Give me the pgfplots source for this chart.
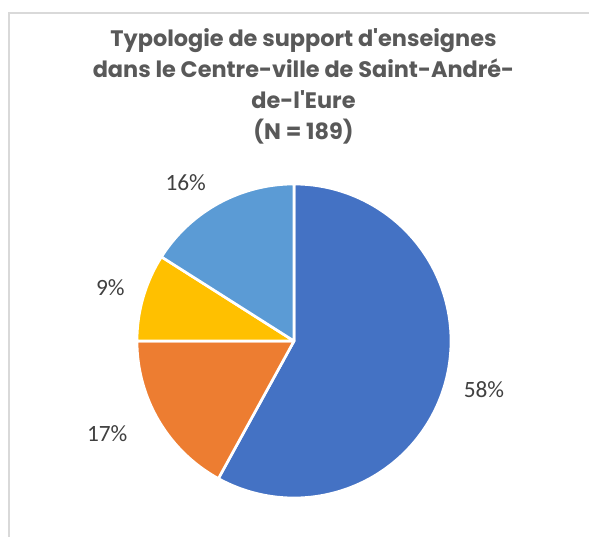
\documentclass[border=0pt]{standalone}
\usepackage{pgfplots}
\usepackage{pgfplotstable}
\pgfplotsset{compat=1.18}
\usepackage{fontspec}
\newfontfamily\titlefont{Poppins}
\newfontfamily\labelfont{Carlito}
\definecolor{c1}{HTML}{4472C4}
\definecolor{c2}{HTML}{ED7D31}
\definecolor{c3}{HTML}{FFC000}
\definecolor{c4}{HTML}{5B9BD5}
\definecolor{titlegray}{HTML}{595959}
\definecolor{labgray}{HTML}{404040}
\definecolor{framegray}{HTML}{D9D9D9}
\pgfplotstableread{
value color
58 c1
17 c2
9 c3
16 c4
}\pietable
\begin{document}
\begin{tikzpicture}[x=0.75pt,y=0.75pt]
\useasboundingbox (0,0) rectangle (589,536);
\draw[framegray, line width=1pt] (9,-5) -- (9,523) -- (600,523);
\begin{scope}[titlegray]
\node[anchor=base, inner sep=0] at (303.5,489) {\titlefont\bfseries\fontsize{16.8pt}{18pt}\selectfont Typologie de support d'enseignes};
\node[anchor=base, inner sep=0] at (303.5,458) {\titlefont\bfseries\fontsize{16.8pt}{18pt}\selectfont dans le Centre-ville de Saint-André-};
\node[anchor=base, inner sep=0] at (303.5,427) {\titlefont\bfseries\fontsize{16.8pt}{18pt}\selectfont de-l'Eure};
\node[anchor=base, inner sep=0] at (303.5,396) {\titlefont\bfseries\fontsize{16.8pt}{18pt}\selectfont (N = 189)};
\end{scope}
\begin{axis}[
  at={(220.5pt,146.25pt)}, anchor=center,
  hide axis, scale only axis,
  width=235.5pt, height=235.5pt,
  xmin=-1, xmax=1, ymin=-1, ymax=1,
  clip=false,
]
\pgfmathsetmacro\start{90}
\pgfplotsforeachungrouped \i in {0,...,3}{%
  \pgfplotstablegetelem{\i}{value}\of\pietable \let\v\pgfplotsretval
  \pgfplotstablegetelem{\i}{color}\of\pietable \let\c\pgfplotsretval
  \pgfmathsetmacro\en{\start-3.6*\v}%
  \edef\cmd{\noexpand\addplot[fill=\c, draw=white, line width=2pt, line join=round, domain=\en:\start, samples=120] ({cos(x)},{sin(x)}) -- (axis cs:0,0) -- cycle;}%
  \cmd
  \global\let\start\en
}
\begin{scope}[labgray]
\node at (axis cs:1.21,-0.31) {\labelfont\fontsize{17.5pt}{20pt}\selectfont 58\%};
\node at (axis cs:-1.19,-0.59) {\labelfont\fontsize{17.5pt}{20pt}\selectfont 17\%};
\node at (axis cs:-1.17,0.34) {\labelfont\fontsize{17.5pt}{20pt}\selectfont 9\%};
\node at (axis cs:-0.69,1.01) {\labelfont\fontsize{17.5pt}{20pt}\selectfont 16\%};
\end{scope}
\end{axis}
\end{tikzpicture}
\end{document}
